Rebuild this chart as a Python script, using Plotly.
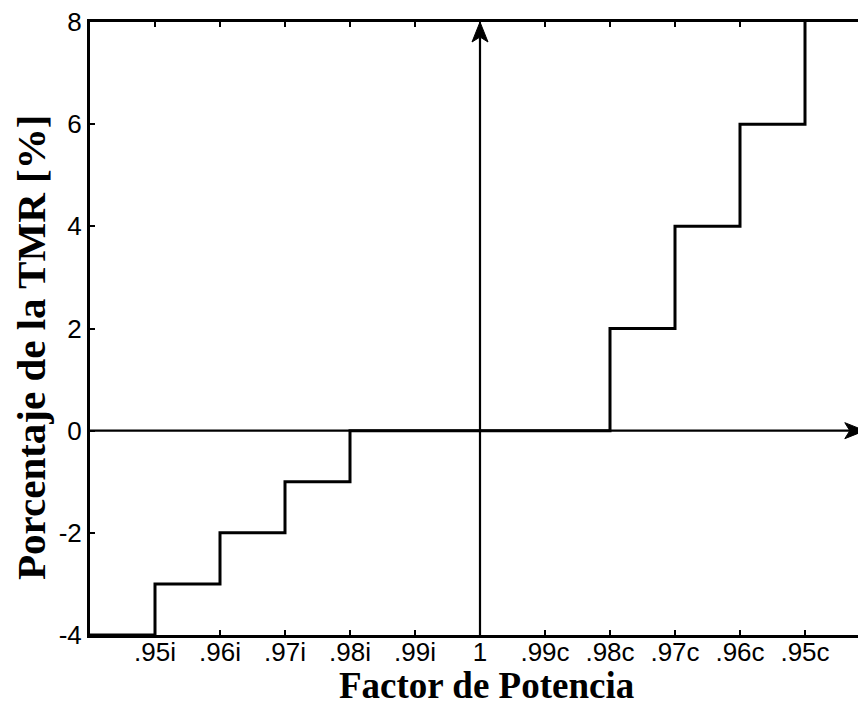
import plotly.graph_objects as go

# Data
categories = [".95i", ".96i", ".97i", ".98i", ".99i", "1", ".99c", ".98c", ".97c", ".96c", ".95c"]
cat_pos = list(range(1, 12))
step_x = list(range(0, 12))
tmr = [-4, -3, -2, -1, 0, 0, 0, 0, 2, 4, 6, 8]
y_ticks = [-4, -2, 0, 2, 4, 6, 8]
y_ticktext = ["-4", "-2", "0", "2", "4", "6", "8"]

X_RANGE = [0, 12]
Y_RANGE = [-4, 8]

W, H = 866, 709
OFF = 8  # page body margin
ML, MR, MT, MB = 82, 4, 14, 82
plot_w = W - ML - MR
plot_h = H - MT - MB


def xpaper(px):
    return (px - OFF - ML) / plot_w


def ypaper(py):
    return 1 - (py - OFF - MT) / plot_h


fig = go.Figure()
fig.add_trace(go.Scatter(
    x=step_x, y=tmr, mode="lines", line=dict(shape="hv", color="black", width=3),
    showlegend=False, hoverinfo="skip"))
# invisible trace to activate the right-side tick axis
fig.add_trace(go.Scatter(x=[None], y=[None], yaxis="y2", showlegend=False, hoverinfo="skip"))

tick_font = dict(family="Liberation Sans, Arial, sans-serif", size=26, color="black")

fig.update_layout(
    width=W, height=H,
    margin=dict(l=ML, r=MR, t=MT, b=MB, autoexpand=False),
    paper_bgcolor="white", plot_bgcolor="white",
    xaxis=dict(
        range=X_RANGE, tickvals=cat_pos, ticktext=categories,
        showgrid=False, zeroline=False, automargin=False,
        showline=True, linecolor="black", linewidth=3, mirror="ticks",
        ticks="inside", ticklen=5, tickwidth=2, tickcolor="black",
        tickfont=tick_font, ticklabelstandoff=-8, ticklabeloverflow="allow",
    ),
    yaxis=dict(
        range=Y_RANGE, tickvals=y_ticks, ticktext=y_ticktext,
        showgrid=False, zeroline=False, automargin=False,
        showline=True, linecolor="black", linewidth=3, mirror=False,
        ticks="inside", ticklen=5, tickwidth=2, tickcolor="black",
        tickfont=tick_font, ticklabelstandoff=0, ticklabeloverflow="allow",
    ),
    yaxis2=dict(
        range=Y_RANGE, tickvals=y_ticks, overlaying="y", side="right",
        showgrid=False, zeroline=False, showline=False, showticklabels=False,
        automargin=False,
        ticks="inside", ticklen=5, tickwidth=2, tickcolor="black",
    ),
)

fig.add_annotation(
    text="<b>Factor de Potencia</b>", xref="paper", yref="paper",
    x=xpaper(486), y=ypaper(708), xanchor="center", yanchor="bottom",
    showarrow=False,
    font=dict(family="Liberation Serif, Times New Roman, serif", size=37, color="black"))
fig.add_annotation(
    text="<b>Porcentaje de la TMR [%]</b>", xref="paper", yref="paper",
    x=xpaper(31), y=ypaper(348), xanchor="center", yanchor="middle",
    textangle=-90, showarrow=False,
    font=dict(family="Liberation Serif, Times New Roman, serif", size=41, color="black"))

# Coordinate axes with arrowheads (decorative)
H_TIP = 11.92
V_AXIS = 6
fig.add_shape(type="line", xref="x", yref="y", x0=0, x1=H_TIP - 0.2, y0=0, y1=0,
              line=dict(color="black", width=2.2))
fig.add_shape(type="line", xref="x", yref="y", x0=V_AXIS, x1=V_AXIS, y0=Y_RANGE[0], y1=Y_RANGE[1] - 0.3,
              line=dict(color="black", width=2.2))
fig.add_shape(type="path", xref="x", yref="y", xsizemode="pixel", ysizemode="pixel",
              xanchor=V_AXIS, yanchor=Y_RANGE[1],
              path="M0,0 L-8,-20 L0,-15 L8,-20 Z",
              fillcolor="black", line=dict(color="black", width=1))
fig.add_shape(type="path", xref="x", yref="y", xsizemode="pixel", ysizemode="pixel",
              xanchor=H_TIP, yanchor=0,
              path="M0,0 L-20,8 L-15,0 L-20,-8 Z",
              fillcolor="black", line=dict(color="black", width=1))

fig.write_html("out.html")
